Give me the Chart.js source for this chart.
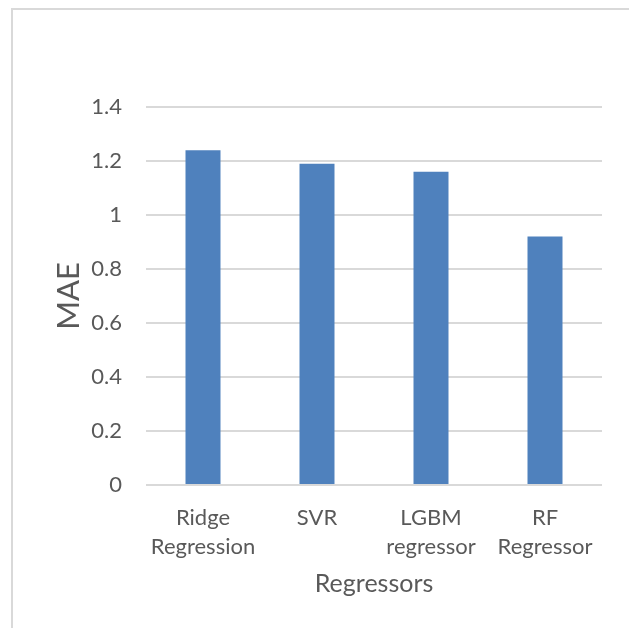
<!DOCTYPE html>
<html>
<head>
<meta charset="utf-8">
<script src="https://cdn.jsdelivr.net/npm/chart.js@4"></script>
<style>
  html, body { margin: 0; padding: 0; background: #fff; }
  #wrap { position: relative; width: 629px; height: 628px; }
  #frame { position: absolute; left: 11px; top: 8px; right: -2px; bottom: -2px;
           border-left: 2px solid #d9d9d9; border-top: 2px solid #d9d9d9; }
  canvas { position: absolute; left: 0; top: 0; }
</style>
</head>
<body>
<div id="wrap">
  <div id="frame"></div>
  <canvas id="c" width="629" height="628"></canvas>
</div>
<script>
// Mean absolute error per regressor
const categories = [["Ridge", "Regression"], ["SVR"], ["LGBM", "regressor"], ["RF", "Regressor"]];
const maeValues = [1.24, 1.19, 1.16, 0.92];
const yTicks = [0, 0.2, 0.4, 0.6, 0.8, 1, 1.2, 1.4];

const FONT = "Lato, 'Open Sans', sans-serif";
const TEXT = "#595959";
const GRID = "#d9d9d9";

new Chart(document.getElementById("c"), {
  type: "bar",
  data: {
    labels: categories,
    datasets: [{
      label: "MAE",
      data: maeValues,
      backgroundColor: "#4f81bd",
      borderWidth: 0,
      barPercentage: 0.307,
      categoryPercentage: 1
    }]
  },
  options: {
    responsive: false,
    animation: false,
    devicePixelRatio: 1,
    layout: { padding: { top: 107, right: 27, left: 0, bottom: 0 } },
    plugins: { legend: { display: false }, tooltip: { enabled: false } },
    scales: {
      x: {
        grid: { display: false, drawTicks: false },
        border: { display: false },
        ticks: {
          color: TEXT,
          font: { family: FONT, size: 22, lineHeight: 1.33 },
          padding: 18,
          maxRotation: 0,
          autoSkip: false
        },
        title: {
          display: true,
          text: "Regressors",
          color: TEXT,
          font: { family: FONT, size: 25 },
          padding: { top: 8, bottom: 29 }
        },
        afterFit: (s) => { s.height = 143; }
      },
      y: {
        min: 0,
        max: 1.4,
        afterBuildTicks: (s) => { s.ticks = yTicks.map(v => ({ value: v })); },
        grid: { color: GRID, lineWidth: 2, drawTicks: false },
        border: { display: false },
        ticks: {
          color: TEXT,
          font: { family: FONT, size: 22 },
          padding: 24,
          callback: (v) => String(v)
        },
        title: {
          display: true,
          text: "MAE",
          color: TEXT,
          font: { family: FONT, size: 31 },
          padding: { top: 50, bottom: 0 }
        },
        afterFit: (s) => { s.width = 146; }
      }
    }
  }
});
</script>
</body>
</html>
